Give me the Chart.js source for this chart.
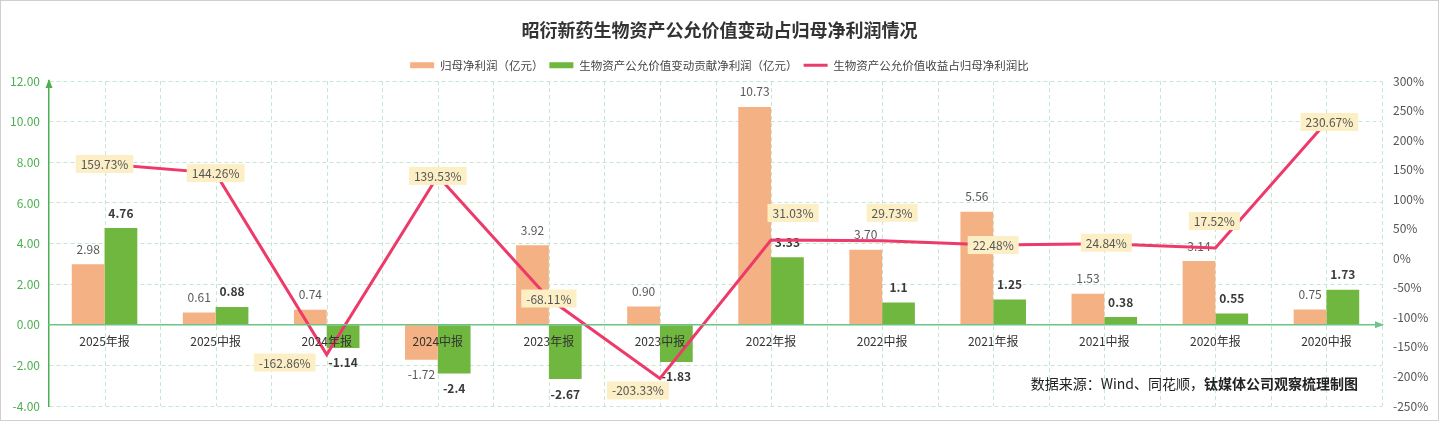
<!DOCTYPE html>
<html>
<head>
<meta charset="utf-8">
<script src="https://cdn.jsdelivr.net/npm/chart.js@4.4.1/dist/chart.umd.min.js"></script>
<style>
  html, body { margin: 0; padding: 0; background: #fff; }
  #wrap { width: 1439px; height: 421px; position: relative; }
</style>
</head>
<body>
<div id="wrap"><canvas id="chart"></canvas></div>
<script>
// 报告期
const categories = ['2025年报', '2025中报', '2024年报', '2024中报', '2023年报', '2023中报',
                    '2022年报', '2022中报', '2021年报', '2021中报', '2020年报', '2020中报'];
// 归母净利润（亿元）
const netProfit = [2.98, 0.61, 0.74, -1.72, 3.92, 0.90, 10.73, 3.70, 5.56, 1.53, 3.14, 0.75];
// 生物资产公允价值变动贡献净利润（亿元）
const bioAssetProfit = [4.76, 0.88, -1.14, -2.4, -2.67, -1.83, 3.33, 1.1, 1.25, 0.38, 0.55, 1.73];
// 生物资产公允价值收益占归母净利润比（%）
const bioAssetRatio = [159.73, 144.26, -162.86, 139.53, -68.11, -203.33, 31.03, 29.73, 22.48, 24.84, 17.52, 230.67];

const leftRange = { min: -4, max: 12, step: 2 };
const rightRange = { min: -250, max: 300, step: 50 };

// nudges for the % boxes so they don't sit on top of the bars (px)
const ratioLabelShift = [[0, 0], [0, 0], [-42, 8], [0, 0], [0, 0], [-22, 12],
                         [22, -27], [10, -28], [0, 0], [2, -1], [-1, -27], [3, 0]];

const FONT = "'Microsoft YaHei', 'Noto Sans CJK SC', sans-serif";
const GRID = '#c6e6d1';
const AXIS_GREEN = '#4caf50';
const ZERO_GREEN = '#6cc487';

Chart.defaults.font.family = FONT;

const drawBarLabels = (chart) => {
    const ctx = chart.ctx;
    ctx.save();
    ctx.textAlign = 'center';
    ctx.textBaseline = 'middle';
    [0, 1].forEach(di => {
        const vals = chart.data.datasets[di].data;
        ctx.font = (di === 1 ? 'bold ' : '') + '12px ' + FONT;
        ctx.fillStyle = di === 1 ? '#3a3a3a' : '#595959';
        chart.getDatasetMeta(di).data.forEach((bar, i) => {
            const v = vals[i];
            const text = di === 0 ? v.toFixed(2) : String(v);
            ctx.fillText(text, bar.x, v >= 0 ? bar.y - 15 : bar.y + 15);
        });
    });
    ctx.restore();
};

// y axes: fixed width, and don't let label overflow grow the outer margins
const fixAxis = width => s => {
    s.width = width;
    s.paddingTop = 0;
    s.paddingBottom = 0;
};

const decorations = {
    id: 'decorations',
    beforeDraw(chart) {
        const ctx = chart.ctx;
        ctx.save();
        ctx.fillStyle = '#fff';
        ctx.fillRect(0, 0, chart.width, chart.height);
        ctx.restore();
    },
    beforeDatasetsDraw(chart) {
        // vertical dashed grid: category centres and boundaries
        const { ctx, chartArea: { top, bottom, left, right } } = chart;
        const xs = chart.scales.x;
        const half = (xs.getPixelForValue(1) - xs.getPixelForValue(0)) / 2;
        const xsList = [];
        categories.forEach((c, i) => {
            const cx = xs.getPixelForValue(i);
            xsList.push(cx - half, cx);
        });
        xsList.push(right);
        ctx.save();
        ctx.strokeStyle = GRID;
        ctx.lineWidth = 1;
        ctx.setLineDash([4, 3]);
        xsList.forEach(x => {
            if (x <= left + 1) return;
            const px = Math.round(x) + 0.5;
            ctx.beginPath();
            ctx.moveTo(px, top);
            ctx.lineTo(px, bottom);
            ctx.stroke();
        });
        ctx.restore();
    },
    beforeDatasetDraw(chart, args) {
        if (args.index === 2) drawBarLabels(chart);
    },
    afterDatasetsDraw(chart) {
        const ctx = chart.ctx;
        const vals = chart.data.datasets[2].data;
        ctx.save();
        ctx.font = '12px ' + FONT;
        ctx.textAlign = 'center';
        ctx.textBaseline = 'middle';
        chart.getDatasetMeta(2).data.forEach((pt, i) => {
            const text = vals[i].toFixed(2) + '%';
            const [dx, dy] = ratioLabelShift[i];
            const x = pt.x + dx, y = pt.y + dy;
            const w = ctx.measureText(text).width + 10;
            ctx.fillStyle = '#fcefc6';
            ctx.fillRect(x - w / 2, y - 9, w, 18);
            ctx.fillStyle = '#555';
            ctx.fillText(text, x, y + 0.5);
        });
        ctx.restore();
    },
    afterDraw(chart) {
        const { ctx, chartArea: { top, bottom, left, right } } = chart;
        const y0 = chart.scales.y.getPixelForValue(0);
        ctx.save();
        // axis arrows
        ctx.fillStyle = AXIS_GREEN;
        ctx.beginPath();
        ctx.moveTo(left, top - 2);
        ctx.lineTo(left - 3.5, top + 7);
        ctx.lineTo(left + 3.5, top + 7);
        ctx.closePath();
        ctx.fill();
        ctx.fillStyle = ZERO_GREEN;
        ctx.beginPath();
        ctx.moveTo(right + 2, y0);
        ctx.lineTo(right - 7, y0 - 3.5);
        ctx.lineTo(right - 7, y0 + 3.5);
        ctx.closePath();
        ctx.fill();

        // source note
        const boldPart = '钛媒体公司观察梳理制图';
        const plainPart = '数据来源：Wind、同花顺，';
        const sx = right - 24, sy = 384;
        ctx.textAlign = 'right';
        ctx.textBaseline = 'middle';
        ctx.fillStyle = '#222';
        ctx.font = 'bold 14px ' + FONT;
        ctx.fillText(boldPart, sx, sy);
        const bw = ctx.measureText(boldPart).width;
        ctx.font = '14px ' + FONT;
        ctx.fillText(plainPart, sx - bw, sy);

        // outer frame
        ctx.strokeStyle = '#cfcfcf';
        ctx.lineWidth = 1;
        ctx.strokeRect(0.5, 0.5, chart.width - 1, chart.height - 1);
        ctx.restore();
    }
};

new Chart(document.getElementById('chart'), {
    type: 'bar',
    data: {
        labels: categories,
        datasets: [
            {
                label: '归母净利润（亿元）',
                data: netProfit,
                backgroundColor: '#f4b183',
                borderWidth: 0,
                yAxisID: 'y',
                categoryPercentage: 0.59,
                barPercentage: 1,
                order: 0
            },
            {
                label: '生物资产公允价值变动贡献净利润（亿元）',
                data: bioAssetProfit,
                backgroundColor: '#70b73f',
                borderWidth: 0,
                yAxisID: 'y',
                categoryPercentage: 0.59,
                barPercentage: 1,
                order: 0
            },
            {
                type: 'line',
                label: '生物资产公允价值收益占归母净利润比',
                data: bioAssetRatio,
                borderColor: '#ee3a6a',
                backgroundColor: '#ee3a6a',
                borderWidth: 3,
                pointRadius: 0,
                tension: 0,
                fill: false,
                yAxisID: 'y2',
                order: -1
            }
        ]
    },
    options: {
        responsive: true,
        maintainAspectRatio: false,
        animation: false,
        events: [],
        layout: { padding: { top: 0, bottom: 15, left: 0, right: 0 } },
        plugins: {
            title: {
                display: true,
                text: '昭衍新药生物资产公允价值变动占归母净利润情况',
                color: '#333',
                font: { size: 18, weight: 'bold' },
                padding: { top: 19, bottom: 13 }
            },
            legend: {
                display: true,
                labels: {
                    color: '#444',
                    font: { size: 11.5 },
                    usePointStyle: true,
                    pointStyleWidth: 24,
                    boxHeight: 6,
                    padding: 6,
                    sort: (a, b) => a.datasetIndex - b.datasetIndex,
                    generateLabels: chart =>
                        Chart.defaults.plugins.legend.labels.generateLabels(chart).map(item => ({
                            ...item,
                            pointStyle: item.datasetIndex === 2 ? 'line' : 'rect'
                        }))
                }
            },
            tooltip: { enabled: false }
        },
        scales: {
            x: {
                type: 'category',
                position: { y: 0 },
                offset: true,
                afterFit: s => { s.height = 0; },
                grid: { display: false, drawTicks: false },
                border: { display: true, color: ZERO_GREEN, width: 1.5, z: 1 },
                ticks: {
                    color: '#333',
                    font: { size: 12 },
                    padding: 9,
                    autoSkip: false,
                    maxRotation: 0,
                    z: 1
                }
            },
            y: {
                position: 'left',
                min: leftRange.min,
                max: leftRange.max,
                afterFit: fixAxis(49),
                ticks: {
                    stepSize: leftRange.step,
                    color: AXIS_GREEN,
                    font: { size: 12 },
                    padding: 9,
                    callback: v => v.toFixed(2)
                },
                grid: { color: GRID, lineWidth: 1, drawTicks: false },
                border: { display: true, color: AXIS_GREEN, width: 1.5, dash: [4, 3] }
            },
            y2: {
                position: 'right',
                min: rightRange.min,
                max: rightRange.max,
                afterFit: fixAxis(57),
                ticks: {
                    stepSize: rightRange.step,
                    color: '#555',
                    font: { size: 12 },
                    padding: 11,
                    callback: v => v + '%'
                },
                grid: { drawOnChartArea: false, drawTicks: false },
                border: { display: false }
            }
        }
    },
    plugins: [decorations]
});
</script>
</body>
</html>
